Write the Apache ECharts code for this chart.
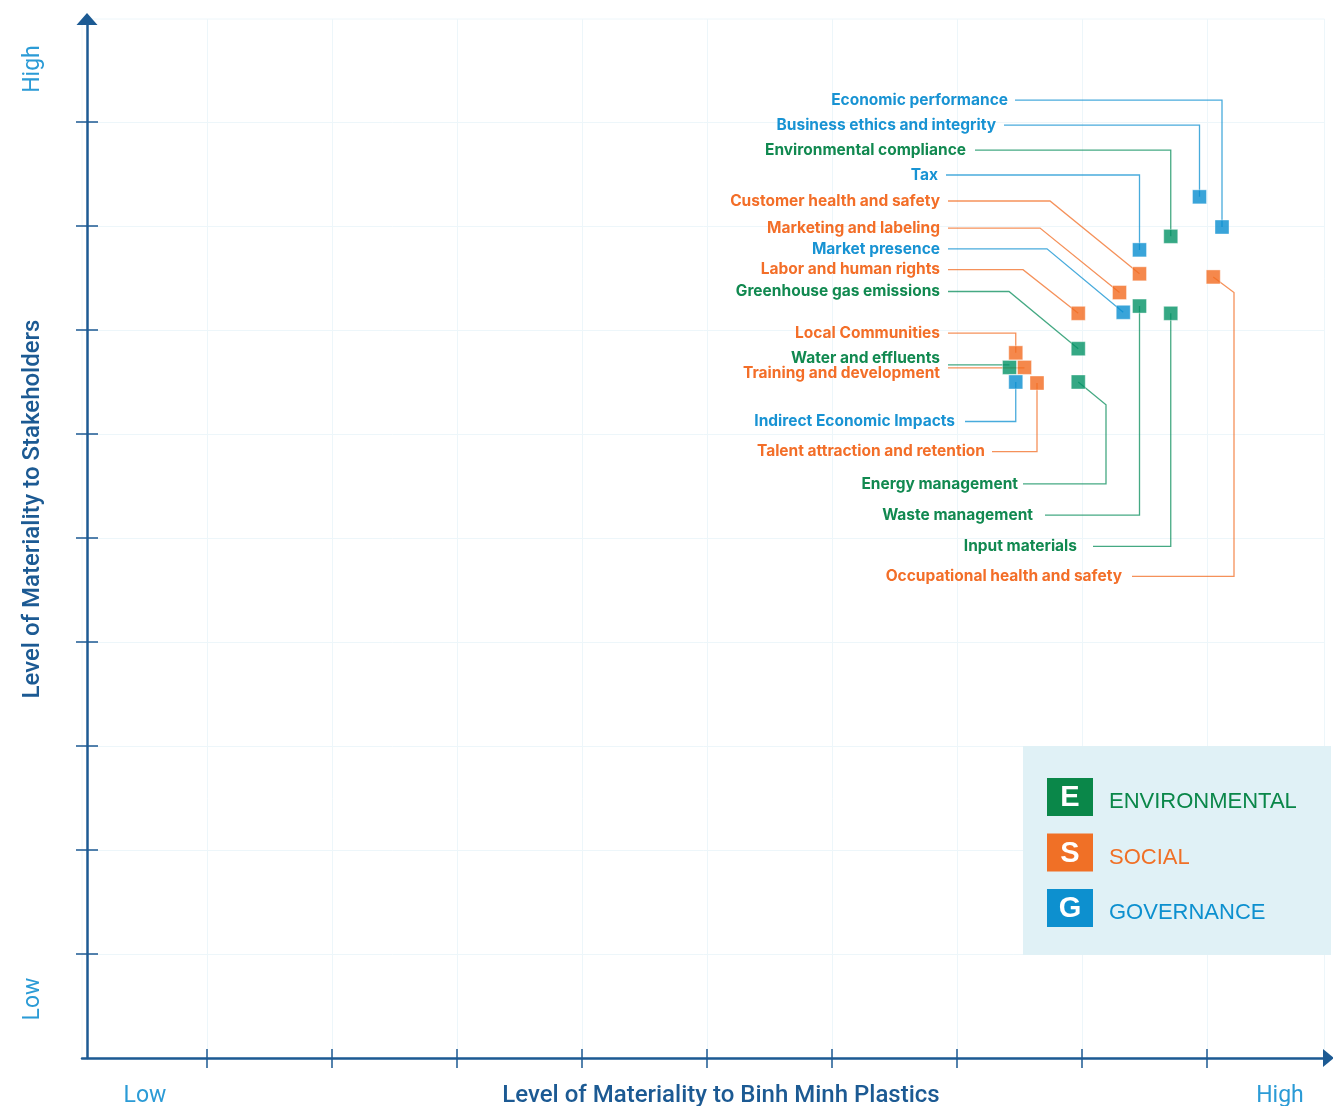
<!DOCTYPE html>
<html>
<head>
<meta charset="utf-8">
<script src="https://cdn.jsdelivr.net/npm/echarts@6/dist/echarts.min.js"></script>
<style>
  html, body { margin: 0; padding: 0; background: #ffffff; }
  #chart { width: 1333px; height: 1106px; }
</style>
</head>
<body>
<div id="chart"></div>
<script>
// ESG materiality matrix: x = importance to the company, y = importance to stakeholders

const pillarCodes = ['E', 'S', 'G'];
const pillarNames = ['ENVIRONMENTAL', 'SOCIAL', 'GOVERNANCE'];

const topics = [
  'Economic performance',
  'Business ethics and integrity',
  'Environmental compliance',
  'Tax',
  'Customer health and safety',
  'Marketing and labeling',
  'Market presence',
  'Labor and human rights',
  'Greenhouse gas emissions',
  'Local Communities',
  'Water and effluents',
  'Training and development',
  'Indirect Economic Impacts',
  'Talent attraction and retention',
  'Energy management',
  'Waste management',
  'Input materials',
  'Occupational health and safety'
];
const topicPillar = ['G', 'G', 'E', 'G', 'S', 'S', 'G', 'S', 'E', 'S', 'E', 'S', 'G', 'S', 'E', 'E', 'E', 'S'];
const companyScore = [9.12, 8.94, 8.71, 8.46, 8.46, 8.30, 8.33, 7.97, 7.97, 7.47, 7.42, 7.54, 7.47, 7.64, 7.97, 8.46, 8.71, 9.05];
const stakeholderScore = [7.99, 8.28, 7.90, 7.77, 7.54, 7.36, 7.17, 7.16, 6.82, 6.78, 6.64, 6.64, 6.50, 6.49, 6.50, 7.23, 7.16, 7.51];

const tickValues = [1, 2, 3, 4, 5, 6, 7, 8, 9];

// Callout placement in axis units: text right edge, leader start, label row,
// leader shape ('v' elbow down/up, 'd' diagonal, 'h' straight, 'vd' elbow + diagonal)
const calloutLayout = [
  { text: 7.408, start: 7.464, y: 9.21, kind: 'v' },
  { text: 7.312, start: 7.376, y: 8.97, kind: 'v' },
  { text: 7.072, start: 7.144, y: 8.73, kind: 'v' },
  { text: 6.848, start: 6.912, y: 8.49, kind: 'v' },
  { text: 6.864, start: 6.928, y: 8.24, kind: 'd', bx: 7.744 },
  { text: 6.864, start: 6.928, y: 7.98, kind: 'd', bx: 7.664 },
  { text: 6.864, start: 6.928, y: 7.78, kind: 'd', bx: 7.72 },
  { text: 6.864, start: 6.928, y: 7.58, kind: 'd', bx: 7.528 },
  { text: 6.864, start: 6.928, y: 7.37, kind: 'd', bx: 7.416 },
  { text: 6.864, start: 6.928, y: 6.97, kind: 'v' },
  { text: 6.864, start: 6.928, y: 6.73, kind: 'h', by: 6.665 },
  { text: 6.864, start: 6.928, y: 6.58, kind: 'h', by: 6.635 },
  { text: 6.984, start: 7.064, y: 6.12, kind: 'v' },
  { text: 7.224, start: 7.28, y: 5.83, kind: 'v' },
  { text: 7.488, start: 7.528, y: 5.52, kind: 'vd', bx: 8.192, by: 6.28 },
  { text: 7.608, start: 7.704, y: 5.22, kind: 'v' },
  { text: 7.96, start: 8.088, y: 4.92, kind: 'v' },
  { text: 8.32, start: 8.40, y: 4.63, kind: 'vd', bx: 9.216, by: 7.36 }
];

const markColor = { E: '#039265', S: '#f26a1f', G: '#078dd0' };
const textColor = { E: '#118950', S: '#f36e28', G: '#1893d3' };
const lineColor = { E: 'rgba(7,140,90,0.75)', S: 'rgba(242,108,35,0.75)', G: 'rgba(11,143,208,0.75)' };
const legendColor = { E: '#0a8749', S: '#f07026', G: '#0d90cf' };
const axisColor = '#1c5a93';
const gridLineColor = '#edf6fa';

const chart = echarts.init(document.getElementById('chart'), null, { renderer: 'canvas' });

const points = topics.map((t, i) => [companyScore[i], stakeholderScore[i], i]);

const scatterSeries = pillarCodes.map((code) => ({
  type: 'scatter',
  name: code,
  xAxisIndex: 0,
  yAxisIndex: 0,
  symbol: 'rect',
  symbolSize: 14,
  z: 5,
  silent: true,
  itemStyle: { color: markColor[code], borderColor: 'rgba(255,255,255,0.6)', borderWidth: 0.8 },
  data: points.filter((p) => topicPillar[p[2]] === code)
}));

const calloutSeries = {
  type: 'custom',
  coordinateSystem: 'cartesian2d',
  xAxisIndex: 0,
  yAxisIndex: 0,
  silent: true,
  clip: false,
  z: 3,
  data: points,
  renderItem: function (params, api) {
    const i = api.value(2);
    const L = calloutLayout[i];
    const code = topicPillar[i];
    const m = api.coord([api.value(0), api.value(1)]);
    const ly = api.coord([0, L.y])[1];
    const sx = api.coord([L.start, 0])[0];
    const tx = api.coord([L.text, 0])[0];
    let pts;
    if (L.kind === 'v') {
      pts = [[sx, ly], [m[0], ly], m];
    } else if (L.kind === 'd') {
      const bx = api.coord([L.bx, 0])[0];
      pts = [[sx, ly], [bx, ly], m];
    } else if (L.kind === 'h') {
      const hy = api.coord([0, L.by])[1];
      pts = [[sx, hy], [m[0], hy]];
    } else {
      const bx = api.coord([L.bx, 0])[0];
      const byp = api.coord([0, L.by])[1];
      pts = [[sx, ly], [bx, ly], [bx, byp], m];
    }
    return {
      type: 'group',
      children: [
        {
          type: 'polyline',
          shape: { points: pts },
          style: { stroke: lineColor[code], lineWidth: 1.3, fill: null }
        },
        {
          type: 'text',
          style: {
            text: topics[i],
            x: tx,
            y: ly,
            align: 'right',
            verticalAlign: 'middle',
            fill: textColor[code],
            fontFamily: 'Inter',
            fontWeight: 'bold',
            fontSize: 15.5
          }
        }
      ]
    };
  }
};

// Legend panel
const legendGraphics = [
  { type: 'rect', left: 1023, top: 746, shape: { width: 308, height: 209 }, style: { fill: '#e0f1f6' }, z: 1 }
];
pillarCodes.forEach((code, k) => {
  const top = 778 + k * 55.5;
  legendGraphics.push({
    type: 'rect', left: 1047, top: top, shape: { width: 46, height: 38 },
    style: { fill: legendColor[code] }, z: 2
  });
  legendGraphics.push({
    type: 'text', x: 1070, y: top + 20, z: 3,
    style: {
      text: code, align: 'center', verticalAlign: 'middle', fill: '#ffffff',
      fontFamily: 'Liberation Sans', fontWeight: 'bold', fontSize: 29
    }
  });
  legendGraphics.push({
    type: 'text', x: 1109, y: top + 24, z: 3,
    style: {
      text: pillarNames[k], align: 'left', verticalAlign: 'middle', fill: legendColor[code],
      fontFamily: 'Liberation Sans', fontSize: 22
    }
  });
});

// Axis titles and end labels
const titleFont = { fontFamily: 'Roboto', fontSize: 24, fontWeight: 500 };
const endFont = { fontFamily: 'Roboto', fontSize: 23 };
const titleGraphics = [
  {
    type: 'text', x: 721, y: 1096, z: 3,
    style: Object.assign({ text: 'Level of Materiality to Binh Minh Plastics', align: 'center', verticalAlign: 'middle', fill: axisColor }, titleFont)
  },
  {
    type: 'text', x: 145, y: 1096, z: 3,
    style: Object.assign({ text: 'Low', align: 'center', verticalAlign: 'middle', fill: '#2b9bd6' }, endFont)
  },
  {
    type: 'text', x: 1280, y: 1096, z: 3,
    style: Object.assign({ text: 'High', align: 'center', verticalAlign: 'middle', fill: '#2b9bd6' }, endFont)
  },
  {
    type: 'text', x: 33, y: 509, rotation: Math.PI / 2, z: 3,
    style: Object.assign({ text: 'Level of Materiality to Stakeholders', align: 'center', verticalAlign: 'middle', fill: axisColor }, titleFont)
  },
  {
    type: 'text', x: 33, y: 69, rotation: Math.PI / 2, z: 3,
    style: Object.assign({ text: 'High', align: 'center', verticalAlign: 'middle', fill: '#2b9bd6' }, endFont)
  },
  {
    type: 'text', x: 33, y: 999, rotation: Math.PI / 2, z: 3,
    style: Object.assign({ text: 'Low', align: 'center', verticalAlign: 'middle', fill: '#2b9bd6' }, endFont)
  }
];

const baseX = {
  type: 'value', min: 0, max: 9.94, interval: 1, position: 'bottom',
  axisLabel: { show: false }
};
const baseY = {
  type: 'value', min: 0, max: 9.99, interval: 1, position: 'left', offset: -5,
  axisLabel: { show: false }
};

chart.setOption({
  animation: false,
  backgroundColor: '#ffffff',
  grid: {
    left: 82, right: 8.5, top: 19, bottom: 48,
    show: true, borderColor: gridLineColor, borderWidth: 1
  },
  xAxis: [
    Object.assign({}, baseX, {
      axisLine: { show: true, lineStyle: { color: axisColor, width: 2.5 }, symbol: ['none', 'triangle'], symbolSize: [18, 11], symbolOffset: [0, 4] },
      axisTick: { show: true, inside: false, length: 10, customValues: tickValues, lineStyle: { color: axisColor, width: 1.5 } },
      splitLine: { show: true, lineStyle: { color: gridLineColor, width: 1 } }
    }),
    Object.assign({}, baseX, {
      axisLine: { show: false },
      axisTick: { show: true, inside: true, length: 9, customValues: tickValues, lineStyle: { color: axisColor, width: 1.5 } },
      splitLine: { show: false }
    })
  ],
  yAxis: [
    Object.assign({}, baseY, {
      axisLine: { show: true, lineStyle: { color: axisColor, width: 2.5 }, symbol: ['none', 'triangle'], symbolSize: [21, 12], symbolOffset: [0, 0] },
      axisTick: { show: true, inside: false, length: 11, customValues: tickValues, lineStyle: { color: axisColor, width: 1.5 } },
      splitLine: { show: true, lineStyle: { color: gridLineColor, width: 1 } }
    }),
    Object.assign({}, baseY, {
      axisLine: { show: false },
      axisTick: { show: true, inside: true, length: 11, customValues: tickValues, lineStyle: { color: axisColor, width: 1.5 } },
      splitLine: { show: false }
    })
  ],
  graphic: legendGraphics.concat(titleGraphics),
  series: [calloutSeries].concat(scatterSeries)
});
</script>
</body>
</html>
